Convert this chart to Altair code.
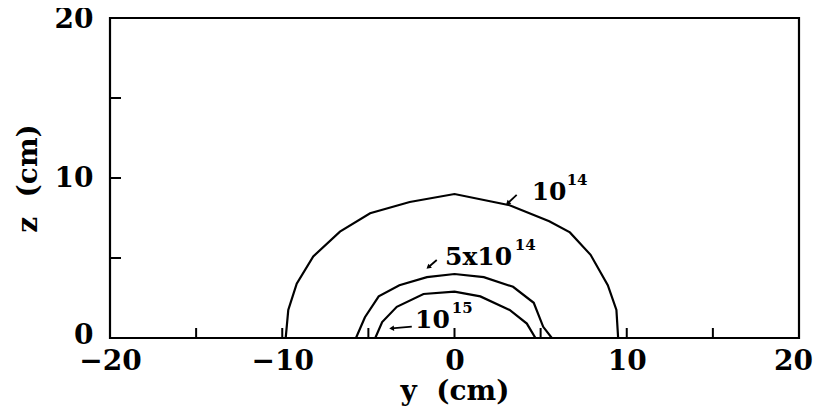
import altair as alt
import pandas as pd

# Contour curves (y in cm, z in cm)
outer_y = [-9.8, -9.65, -9.16, -8.2, -6.65, -4.9, -2.6, 0.0, 3.2, 5.5, 6.7, 7.9, 8.9, 9.4, 9.5]
outer_z = [0.0, 1.75, 3.4, 5.1, 6.65, 7.8, 8.5, 9.0, 8.3, 7.3, 6.6, 5.2, 3.3, 1.75, 0.0]
mid_y = [-5.72, -5.2, -4.4, -3.2, -1.6, 0.0, 1.7, 3.4, 4.6, 5.15, 5.65]
mid_z = [0.0, 1.3, 2.6, 3.3, 3.8, 4.0, 3.8, 3.2, 2.2, 0.7, 0.0]
inner_y = [-4.6, -4.2, -3.35, -1.8, 0.0, 1.5, 3.2, 4.2, 4.7]
inner_z = [0.0, 1.0, 1.95, 2.75, 2.9, 2.6, 1.75, 0.9, 0.0]

# Labels: base text and exponent
label_base = ["10", "5x10", "10"]
label_base_y = [4.48, -0.55, -2.29]
label_base_z = [8.63, 4.56, 0.6]
label_exp = ["14", "14", "15"]
label_exp_y = [6.51, 3.5, -0.16]
label_exp_z = [9.56, 5.5, 1.54]

# Arrows (tail -> head)
arrow_y1 = [3.61, -1.03, -2.48]
arrow_z1 = [8.94, 4.875, 0.71]
arrow_y2 = [3.09, -1.52, -3.65]
arrow_z2 = [8.42, 4.42, 0.6]
arrow_angle = [227, 229, 265]

x_ticks = [-15, -10, -5, 0, 5, 10, 15]
z_ticks = [5, 10, 15]

FONT = "DejaVu Serif"

rows = []
for name, ys, zs in [("a", outer_y, outer_z), ("b", mid_y, mid_z), ("c", inner_y, inner_z)]:
    for i, (yy, zz) in enumerate(zip(ys, zs)):
        rows.append({"curve": name, "i": i, "y": yy, "z": zz})
curves = pd.DataFrame(rows)

xs = alt.Scale(domain=[-20, 20], nice=False, zero=False)
zs_ = alt.Scale(domain=[0, 20], nice=False, zero=False)

lines = alt.Chart(curves).mark_line(color="black", strokeWidth=2.2, clip=True).encode(
    x=alt.X("y:Q", scale=xs,
            axis=alt.Axis(values=[-20, -10, 0, 10, 20], title="y\u00a0\u00a0(cm)", grid=False, ticks=False,
                          domain=False, labelPadding=9, titleFontSize=28,
                          titleY=61, titleBaseline="alphabetic",
                          labelOffset={"expr": "datum.value == 20 ? -6 : 0"},
                          labelFlush=False)),
    y=alt.Y("z:Q", scale=zs_,
            axis=alt.Axis(values=[0, 10, 20], title="z\u00a0\u00a0(cm)", grid=False, ticks=False,
                          domain=False, labelPadding=17, titlePadding=12, labelFlush=False,
                          labelOffset={"expr": "datum.value == 0 ? -3 : (datum.value == 20 ? 1 : 0)"})),
    detail="curve:N",
    order="i:Q",
)

xt = alt.Chart(pd.DataFrame({"t": x_ticks})).mark_rule(color="black", strokeWidth=2).encode(
    x=alt.X("t:Q", scale=xs), y=alt.value(320), y2=alt.value(310))
zt = alt.Chart(pd.DataFrame({"t": z_ticks})).mark_rule(color="black", strokeWidth=2).encode(
    y=alt.Y("t:Q", scale=zs_), x=alt.value(0), x2=alt.value(11))

lab = pd.DataFrame({"txt": label_base, "y": label_base_y, "z": label_base_z})
base_text = alt.Chart(lab).mark_text(font=FONT, fontSize=25, fontWeight="bold", align="left",
                                     baseline="alphabetic", color="black").encode(
    x=alt.X("y:Q", scale=xs), y=alt.Y("z:Q", scale=zs_), text="txt:N")
ex = pd.DataFrame({"txt": label_exp, "y": label_exp_y, "z": label_exp_z})
exp_text = alt.Chart(ex).mark_text(font=FONT, fontSize=15, fontWeight="bold", align="left",
                                   baseline="alphabetic", color="black").encode(
    x=alt.X("y:Q", scale=xs), y=alt.Y("z:Q", scale=zs_), text="txt:N")

arr = pd.DataFrame({"y1": arrow_y1, "z1": arrow_z1, "y2": arrow_y2, "z2": arrow_z2, "ang": arrow_angle})
arrow_lines = alt.Chart(arr).mark_rule(color="black", strokeWidth=1.8).encode(
    x=alt.X("y1:Q", scale=xs), y=alt.Y("z1:Q", scale=zs_), x2="y2:Q", y2="z2:Q")
arrow_heads = alt.Chart(arr).mark_point(shape="triangle-up", filled=True, color="black", size=30,
                                        opacity=1).encode(
    x=alt.X("y2:Q", scale=xs), y=alt.Y("z2:Q", scale=zs_), angle=alt.Angle("ang:Q", scale=None))

chart = alt.layer(lines, xt, zt, arrow_lines, arrow_heads, base_text, exp_text).properties(
    width=689, height=320,
    autosize=alt.AutoSizeParams(type="none"),
    padding={"left": 102, "top": 10, "right": 15, "bottom": 69},
    background="white",
).configure_view(stroke="black", strokeWidth=2.2).configure_axis(
    labelFont=FONT, titleFont=FONT, labelFontSize=28, titleFontSize=28,
    labelFontWeight="bold", titleFontWeight="bold",
    labelColor="black", titleColor="black",
)

chart.save("out.html", embed_options={"renderer": "svg", "actions": False})
